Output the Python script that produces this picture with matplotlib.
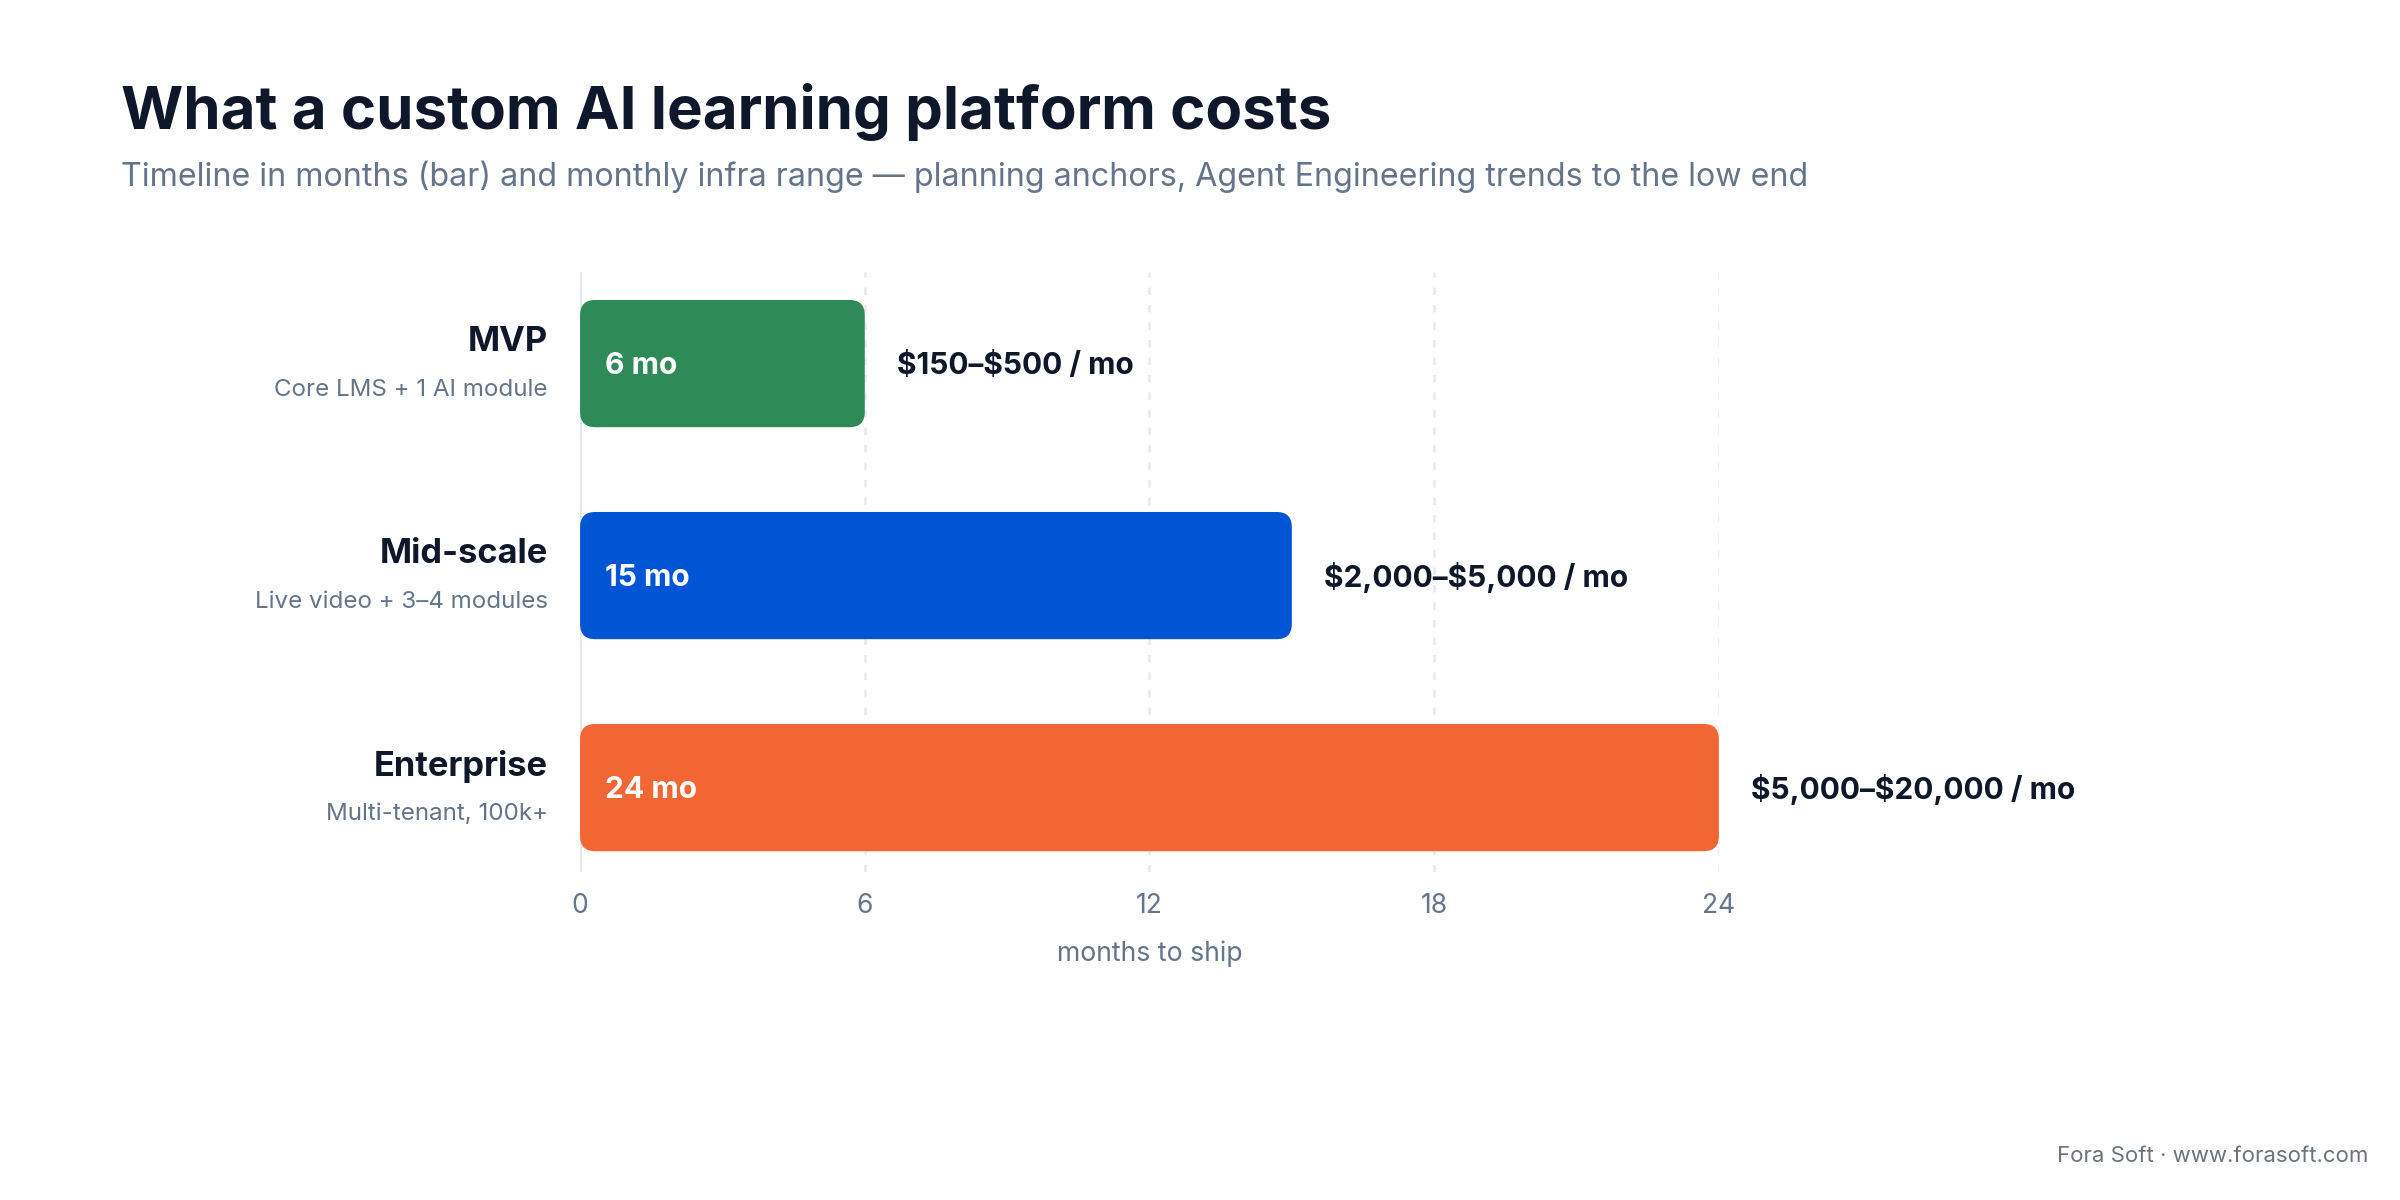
import matplotlib
matplotlib.use("Agg")
import matplotlib.pyplot as plt
from matplotlib.patches import FancyBboxPatch

plt.rcParams['font.family'] = ['Inter', 'DejaVu Sans']
plt.rcParams['text.parse_math'] = False

# data
tiers = ['MVP', 'Mid-scale', 'Enterprise']
tier_notes = ['Core LMS + 1 AI module', 'Live video + 3–4 modules', 'Multi-tenant, 100k+']
months = [6, 15, 24]
infra = ['$150–$500 / mo', '$2,000–$5,000 / mo', '$5,000–$20,000 / mo']
bar_colors = ['#2e8b57', '#0055d4', '#f26633']
xticks = [0, 6, 12, 18, 24]

DARK = '#0f172a'
GREY = '#64748b'

fig = plt.figure(figsize=(12, 6), dpi=200)
ax = fig.add_axes([0.2417, 0.273, 0.4745, 0.5])

ypos = list(range(len(tiers)))
bars = ax.barh(ypos, months, height=0.6, color=bar_colors, zorder=3)

# swap plain bars for rounded ones
for b, c in zip(bars, bar_colors):
    x0, y0 = b.get_x(), b.get_y()
    w, h = b.get_width(), b.get_height()
    b.set_visible(False)
    rb = FancyBboxPatch((x0, y0), w, h,
                        boxstyle="round,pad=0,rounding_size=0.32",
                        mutation_aspect=0.224, fc=c, ec='none', zorder=3)
    ax.add_patch(rb)

ax.set_xlim(0, 24)
ax.set_ylim(2.40, -0.43)

for i in ypos:
    ax.annotate(tiers[i], (0, i), xytext=(-11.6, 7.6), textcoords='offset points',
                ha='right', va='center', fontsize=12.4, fontweight='bold',
                color=DARK, annotation_clip=False)
    ax.annotate(tier_notes[i], (0, i), xytext=(-11.6, -9.4), textcoords='offset points',
                ha='right', va='center', fontsize=8.7, color=GREY,
                annotation_clip=False)
    ax.annotate(f'{months[i]} mo', (0, i), xytext=(8.8, -0.7), textcoords='offset points',
                ha='left', va='center', fontsize=10.8, fontweight='bold',
                color='white', zorder=4)
    ax.annotate(infra[i], (months[i], i), xytext=(11.6, -0.7), textcoords='offset points',
                ha='left', va='center', fontsize=10.75, fontweight='bold',
                color=DARK, annotation_clip=False)

ax.set_xticks(xticks)
ax.set_yticks([])
ax.tick_params(axis='x', length=0, pad=7.5, labelsize=9.5, labelcolor=GREY)
for t in xticks[1:]:
    ax.axvline(t, color='#e5e9f0', lw=0.9, ls=(0, (3, 4)), zorder=1)
ax.axvline(0, color='#e2e8f0', lw=1.3, zorder=2)

for s in ax.spines.values():
    s.set_visible(False)

ax.set_xlabel('months to ship', fontsize=9.6, color=GREY, labelpad=7.5)

fig.text(0.0504, 0.907, 'What a custom AI learning platform costs', fontsize=21.6,
         fontweight='bold', color=DARK, va='center')
fig.text(0.0504, 0.853,
         'Timeline in months (bar) and monthly infra range — planning anchors, '
         'Agent Engineering trends to the low end',
         fontsize=11.6, color=GREY, va='center')
fig.text(0.987, 0.037, 'Fora Soft · www.forasoft.com', fontsize=8.0,
         color='#6b7280', ha='right', va='center')

fig.savefig('out.png', dpi=200, facecolor='white')
